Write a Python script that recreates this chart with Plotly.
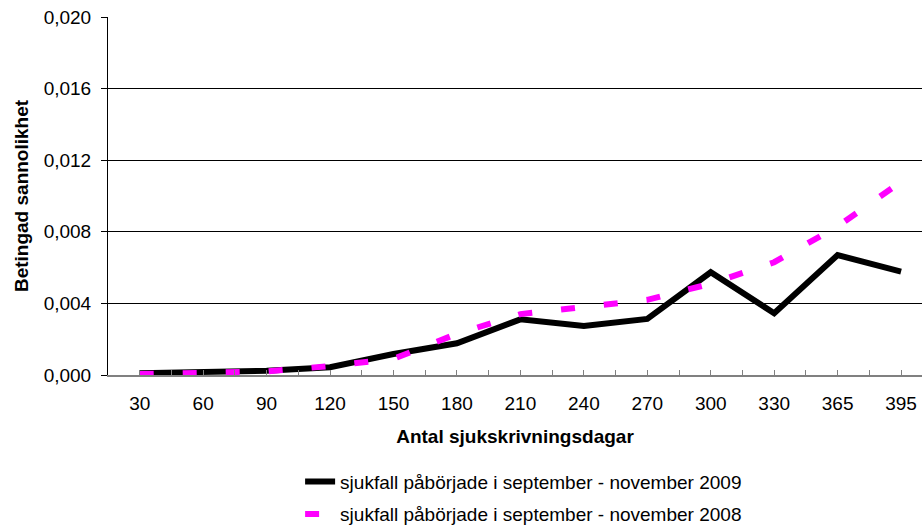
import plotly.graph_objects as go

categories = ["30", "60", "90", "120", "150", "180", "210", "240", "270", "300", "330", "365", "395"]
series_2009 = [0.0001, 0.00015, 0.00024, 0.00043, 0.00117, 0.00177, 0.00311, 0.00274, 0.00313, 0.00574, 0.00345, 0.0067, 0.00577]
series_2008 = [0.00005, 0.0001, 0.0002, 0.0005, 0.0009, 0.0023, 0.0034, 0.0038, 0.0042, 0.0051, 0.0063, 0.0083, 0.0108]
name_2009 = "sjukfall påbörjade i september - november 2009"
name_2008 = "sjukfall påbörjade i september - november 2008"
y_ticks = [0.0, 0.004, 0.008, 0.012, 0.016, 0.020]

idx = list(range(len(categories)))
FONT = "Liberation Sans, Arial, sans-serif"
FS = 19

fig = go.Figure()
fig.add_trace(go.Scatter(x=idx, y=series_2009, mode="lines", name=name_2009,
                         legendgroup="a",
                         line=dict(color="black", width=6)))
fig.add_trace(go.Scatter(x=idx, y=series_2008, mode="lines", name=name_2008,
                         legendgroup="b",
                         line=dict(color="#FF00FF", width=6, dash="14px,29px")))

fig.update_layout(
    width=922, height=525,
    margin=dict(l=107.5, r=0, t=17, b=150),
    paper_bgcolor="white", plot_bgcolor="white",
    font=dict(family=FONT, size=FS, color="black"),
    separators=", ",
    showlegend=True,
    legend=dict(orientation="v", xref="paper", x=0.236, xanchor="left",
                yref="container", y=0.119, yanchor="top",
                font=dict(size=FS), tracegroupgap=5, bgcolor="rgba(0,0,0,0)"),
    xaxis=dict(
        range=[-0.5, 12.33], tickmode="array", tickvals=idx, ticktext=categories,
        showline=True, linecolor="#808080", linewidth=2,
        ticks="inside", ticklen=5, tickcolor="#808080", tickwidth=1,
        minor=dict(tick0=0.5, dtick=1, ticks="inside", ticklen=5, tickcolor="#808080", showgrid=False),
        showgrid=False, zeroline=False, ticklabelstandoff=10,
        title=dict(text="<b>Antal sjukskrivningsdagar</b>", font=dict(size=FS), standoff=17),
    ),
    yaxis=dict(
        range=[0, 0.020], tickmode="array", tickvals=y_ticks, tickformat=".3f",
        showline=True, linecolor="black", linewidth=1,
        ticks="outside", ticklen=6, tickcolor="black", ticklabelstandoff=6,
        showgrid=True, gridcolor="black", gridwidth=1, zeroline=False,
        title=dict(text="<b>Betingad sannolikhet</b>", font=dict(size=FS), standoff=10),
    ),
)

fig.write_html("out.html")
